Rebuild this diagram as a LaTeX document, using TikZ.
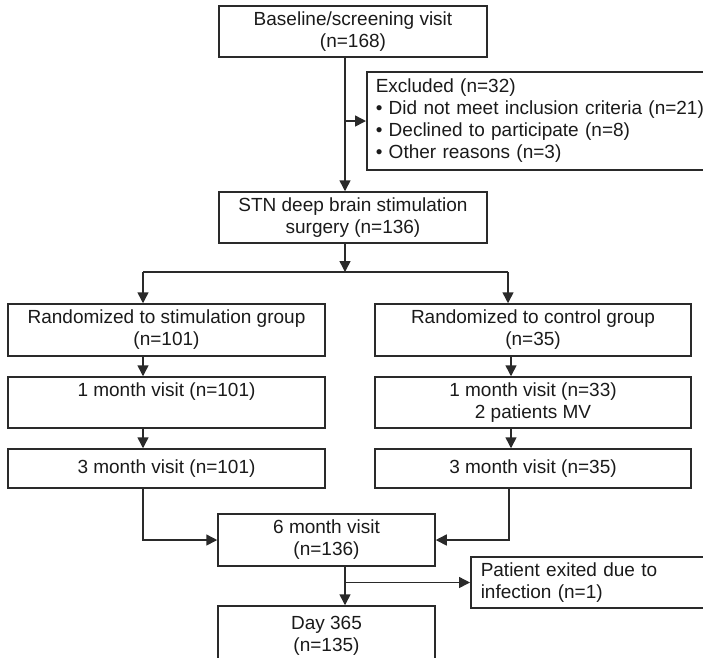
\documentclass[tikz,border=0pt]{standalone}
\usepackage{fontspec}
\setmainfont{Liberation Sans}
\usetikzlibrary{arrows.meta}
\definecolor{lncol}{HTML}{2A2A2A}
\definecolor{txcol}{HTML}{1A1A1A}
\begin{document}
\begin{tikzpicture}[x=1pt,y=1pt,
  box/.style={draw=lncol, line width=1.5pt, rectangle, inner sep=0pt, text=txcol,
    font=\fontsize{19}{22}\selectfont, align=center},
  arr/.style={draw=lncol, line width=1.5pt, -{Triangle[length=11pt,width=11pt]}},
  conn/.style={draw=lncol, line width=1.5pt}]
\useasboundingbox (0,0) rectangle (703,-657);
\clip (0,0) rectangle (703,-657);

\node[box, minimum width=268pt, minimum height=51pt] (base) at (353,-31.5) {Baseline/screening visit\\(n=168)};
\node[box, anchor=west, minimum height=98pt, text width=360pt, align=left, inner xsep=9pt] (excl) at (366,-121)
  {Excluded (n=32)\\• Did not meet inclusion criteria (n=21)\\• Declined to participate (n=8)\\• Other reasons (n=3)};
\node[box, minimum width=268pt, minimum height=51pt] (stn) at (353,-217.5) {STN deep brain stimulation\\surgery (n=136)};
\node[box, minimum width=317pt, minimum height=52pt] (randL) at (166.5,-330) {Randomized to stimulation group\\(n=101)};
\node[box, minimum width=316pt, minimum height=52pt] (randR) at (533,-330) {Randomized to control group\\(n=35)};
\node[box, minimum width=317pt, minimum height=51pt] (m1L) at (166.5,-402.5) {1 month visit (n=101)\\\vphantom{p}};
\node[box, minimum width=316pt, minimum height=51pt] (m1R) at (533,-402.5) {1 month visit (n=33)\\2 patients MV};
\node[box, minimum width=317pt, minimum height=39pt] (m3L) at (166.5,-468.5) {3 month visit (n=101)};
\node[box, minimum width=316pt, minimum height=39pt] (m3R) at (533,-468.5) {3 month visit (n=35)};
\node[box, minimum width=217pt, minimum height=52pt] (m6) at (326.5,-540) {6 month visit\\(n=136)};
\node[box, anchor=west, minimum height=51pt, text width=260pt, align=left, inner xsep=10pt] (pat) at (470,-582.5)
  {Patient exited due to\\infection (n=1)};
\node[box, minimum width=217pt, minimum height=60pt] (day) at (326.5,-636) {Day 365\\(n=135)};

\coordinate (spine) at (345,0);
\coordinate (split) at (345,-272);
\coordinate (splitL) at (143,-272);
\coordinate (splitR) at (508,-272);
\coordinate (colL) at (143,0);
\coordinate (colR) at (511,0);
\coordinate (colRb) at (509,0);

\draw[arr] (base.south -| spine) -- (stn.north -| spine);
\draw[arr] (excl.west -| spine) -- (excl.west);
\draw[arr] (stn.south -| spine) -- (split);
\draw[conn] (splitL) -- (splitR);
\draw[arr] (splitL) -- (randL.north -| splitL);
\draw[arr] (splitR) -- (randR.north -| splitR);
\draw[arr] (randL.south -| colL) -- (m1L.north -| colL);
\draw[arr] (m1L.south -| colL) -- (m3L.north -| colL);
\draw[arr] (randR.south -| colR) -- (m1R.north -| colR);
\draw[arr] (m1R.south -| colR) -- (m3R.north -| colR);
\draw[arr] (m3L.south -| colL) |- (m6.west);
\draw[arr] (m3R.south -| colRb) |- (m6.east);
\draw[arr] (m6.south -| spine) -- (day.north -| spine);
\draw[arr] (spine |- pat.west) -- (pat.west);
\end{tikzpicture}
\end{document}
